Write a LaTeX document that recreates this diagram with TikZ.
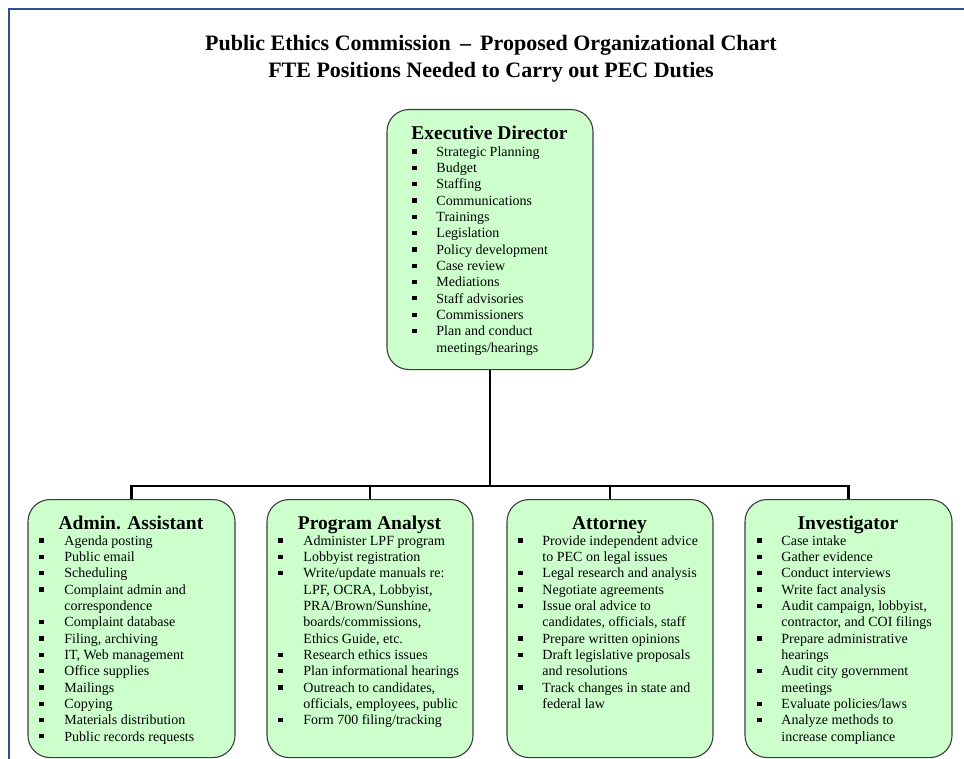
\documentclass[tikz,border=0pt]{standalone}
\usepackage{fontspec}
\setmainfont{Liberation Serif}
\definecolor{frameblue}{RGB}{44,82,140}
\definecolor{boxgreen}{RGB}{204,255,204}
\definecolor{boxedge}{RGB}{60,60,60}

% offsets of the bullet and of the item text from the left side of a box
\newlength\bulx
\newlength\txtx
\newcommand\itm[1]{\par\noindent\makebox[\txtx][l]{\hspace*{\bulx}\rule[2.8pt]{4.2pt}{4.2pt}}#1}
\newcommand\cnt[1]{\par\noindent\hspace*{\txtx}#1}
% #1 bullet offset, #2 text offset, #3 width, #4 heading, #5 items
\newcommand\duties[5]{%
  \setlength\bulx{#1}\setlength\txtx{#2}%
  \parbox[t]{#3}{\lineskiplimit=-20pt\lineskip=0pt
    \centering{\fontsize{19.5}{20}\bfseries\selectfont #4}\par
    \raggedright\fontsize{14}{16.33}\selectfont #5\par}}

\tikzset{
  rolebox/.style={draw=boxedge, line width=1.1pt, fill=boxgreen,
    rounded corners=22pt, inner sep=0pt},
  roletext/.style={anchor=base west, inner sep=0pt, outer sep=0pt},
  conn/.style={draw=black, line width=2.6pt},
  titletext/.style={font=\fontsize{22}{26}\bfseries\selectfont, inner sep=0pt, anchor=base}
}

\begin{document}
\begin{tikzpicture}[x=1pt,y=-1pt]
\useasboundingbox (0,0) rectangle (964,759);
\fill[white] (0,0) rectangle (964,759);

% page frame
\draw[frameblue, line width=2.4pt, line join=miter] (9,770) -- (9,9) -- (970,9);

% title
\node[titletext] (title1) at (491,50.5) {Public Ethics Commission \,--\, Proposed Organizational Chart};
\node[titletext] (title2) at (491,77.5) {FTE Positions Needed to Carry out PEC Duties};

% boxes
\node[rolebox, minimum width=206pt, minimum height=260pt, anchor=north] (ed) at (490,109) {};
\node[rolebox, minimum width=207pt, minimum height=258pt, anchor=north] (aa) at (131.5,499) {};
\node[rolebox, minimum width=206pt, minimum height=258pt, anchor=north] (pa) at (370,499) {};
\node[rolebox, minimum width=206pt, minimum height=258pt, anchor=north] (at) at (610,499) {};
\node[rolebox, minimum width=207pt, minimum height=258pt, anchor=north] (inv) at (848.5,499) {};

% connectors
\coordinate (bus) at (490,486);
\draw[conn] (ed.south) -- (ed.south |- bus);
\draw[conn, line cap=rect] (aa.north |- bus) -- (inv.north |- bus);
\draw[conn] (aa.north |- bus) -- (aa.north);
\draw[conn] (pa.north |- bus) -- (pa.north);
\draw[conn] (at.north |- bus) -- (at.north);
\draw[conn] (inv.north |- bus) -- (inv.north);

% box contents
\node[roletext] (edtxt) at (ed.north west |- 0,140) {\duties{26pt}{50pt}{206pt}{Executive Director}{%
  \itm{Strategic Planning}
  \itm{Budget}
  \itm{Staffing}
  \itm{Communications}
  \itm{Trainings}
  \itm{Legislation}
  \itm{Policy development}
  \itm{Case review}
  \itm{Mediations}
  \itm{Staff advisories}
  \itm{Commissioners}
  \itm{Plan and conduct}
  \cnt{meetings/hearings}}};

\node[roletext] (aatxt) at (aa.north west |- 0,529) {\duties{12pt}{37pt}{207pt}{Admin. Assistant}{%
  \itm{Agenda posting}
  \itm{Public email}
  \itm{Scheduling}
  \itm{Complaint admin and}
  \cnt{correspondence}
  \itm{Complaint database}
  \itm{Filing, archiving}
  \itm{IT, Web management}
  \itm{Office supplies}
  \itm{Mailings}
  \itm{Copying}
  \itm{Materials distribution}
  \itm{Public records requests}}};

\node[roletext] (patxt) at (pa.north west |- 0,529) {\duties{12pt}{37pt}{206pt}{Program Analyst}{%
  \itm{Administer LPF program}
  \itm{Lobbyist registration}
  \itm{Write/update manuals re:}
  \cnt{LPF, OCRA, Lobbyist,}
  \cnt{PRA/Brown/Sunshine,}
  \cnt{boards/commissions,}
  \cnt{Ethics Guide, etc.}
  \itm{Research ethics issues}
  \itm{Plan informational hearings}
  \itm{Outreach to candidates,}
  \cnt{officials, employees, public}
  \itm{Form 700 filing/tracking}}};

\node[roletext] (attxt) at (at.north west |- 0,529) {\duties{12pt}{36pt}{206pt}{Attorney}{%
  \itm{Provide independent advice}
  \cnt{to PEC on legal issues}
  \itm{Legal research and analysis}
  \itm{Negotiate agreements}
  \itm{Issue oral advice to}
  \cnt{candidates, officials, staff}
  \itm{Prepare written opinions}
  \itm{Draft legislative proposals}
  \cnt{and resolutions}
  \itm{Track changes in state and}
  \cnt{federal law}}};

\node[roletext] (invtxt) at (inv.north west |- 0,529) {\duties{13pt}{37pt}{207pt}{Investigator}{%
  \itm{Case intake}
  \itm{Gather evidence}
  \itm{Conduct interviews}
  \itm{Write fact analysis}
  \itm{Audit campaign, lobbyist,}
  \cnt{contractor, and COI filings}
  \itm{Prepare administrative}
  \cnt{hearings}
  \itm{Audit city government}
  \cnt{meetings}
  \itm{Evaluate policies/laws}
  \itm{Analyze methods to}
  \cnt{increase compliance}}};
\end{tikzpicture}
\end{document}
